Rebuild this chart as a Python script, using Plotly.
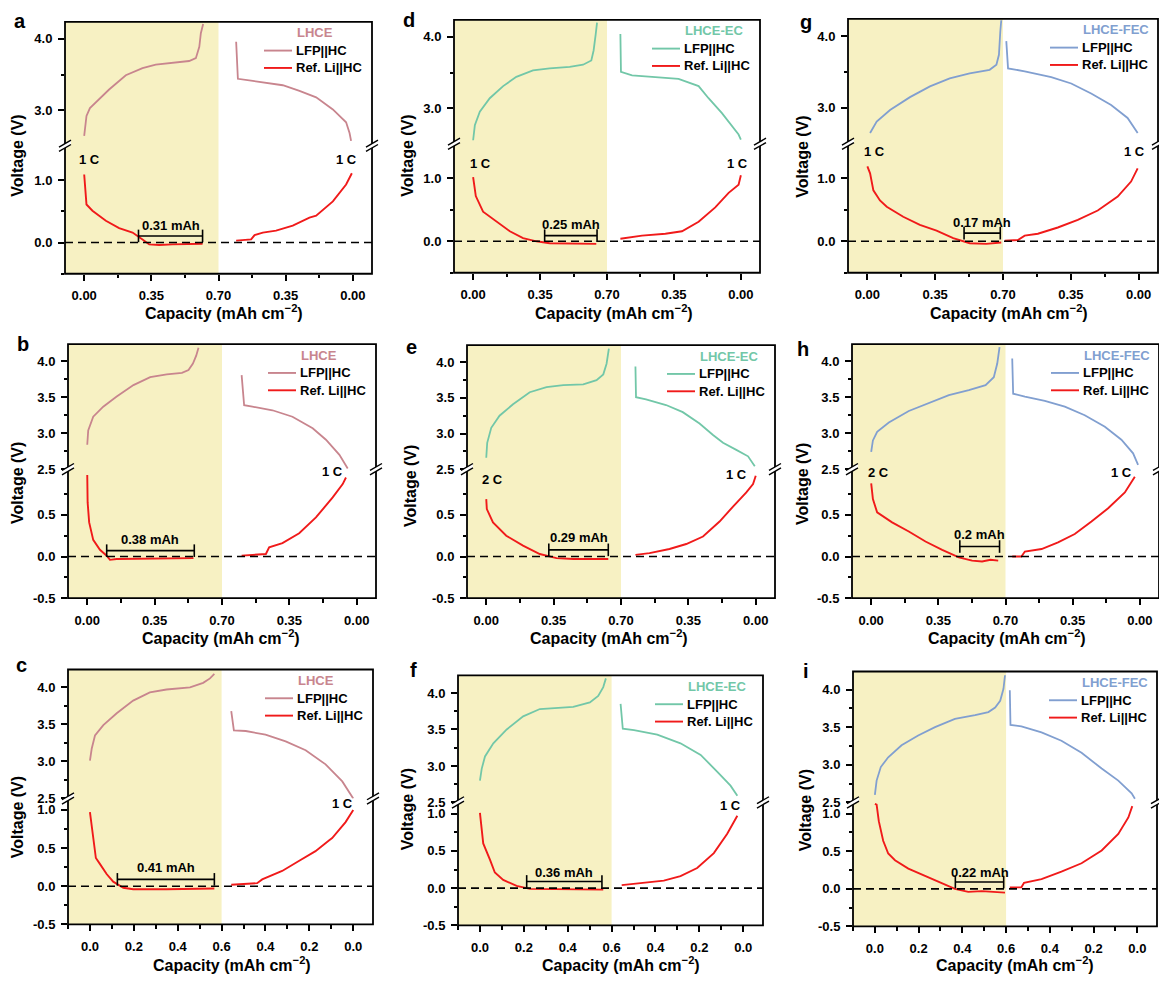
import plotly.graph_objects as go

# ---------------- data: capacity (mAh cm^-2) and voltage (V) ----------------
# Panel a : LHCE, 1 C / 1 C
A_LFP_CHG_CAP = [0, 0.012, 0.03, 0.061, 0.13, 0.217, 0.304, 0.373, 0.46, 0.547, 0.582, 0.6, 0.608, 0.62]
A_LFP_CHG_V = [2.64, 2.92, 3.03, 3.11, 3.29, 3.49, 3.59, 3.64, 3.66, 3.69, 3.73, 3.89, 4.08, 4.21]
A_LFP_DIS_CAP = [0.608, 0.599, 0.521, 0.365, 0.278, 0.191, 0.104, 0.035, 0.017, 0.009]
A_LFP_DIS_V = [3.96, 3.44, 3.41, 3.35, 3.27, 3.18, 3.01, 2.83, 2.68, 2.57]
A_LI_L_CAP = [0, 0.012, 0.043, 0.113, 0.182, 0.252, 0.304, 0.339, 0.391, 0.46, 0.617]
A_LI_L_V = [1.09, 0.61, 0.51, 0.35, 0.23, 0.16, 0.05, -0.03, -0.04, -0.03, -0.02]
A_LI_R_CAP = [0.608, 0.556, 0.53, 0.512, 0.469, 0.4, 0.313, 0.226, 0.191, 0.104, 0.035, 0.005]
A_LI_R_V = [0.03, 0.04, 0.05, 0.12, 0.16, 0.19, 0.27, 0.4, 0.43, 0.66, 0.93, 1.11]

# Panel d : LHCE-EC, 1 C / 1 C
D_LFP_CHG_CAP = [0, 0.009, 0.035, 0.087, 0.157, 0.226, 0.313, 0.4, 0.505, 0.575, 0.618, 0.63, 0.641, 0.648]
D_LFP_CHG_V = [2.55, 2.76, 2.95, 3.14, 3.31, 3.44, 3.53, 3.56, 3.58, 3.61, 3.67, 3.81, 4.04, 4.2]
D_LFP_DIS_CAP = [0.63, 0.627, 0.569, 0.447, 0.326, 0.221, 0.169, 0.099, 0.047, 0.012, 0.0]
D_LFP_DIS_V = [4.04, 3.51, 3.46, 3.44, 3.41, 3.31, 3.14, 2.93, 2.75, 2.63, 2.56]
D_LI_L_CAP = [0, 0.014, 0.052, 0.122, 0.192, 0.261, 0.331, 0.4, 0.644]
D_LI_L_V = [1.02, 0.72, 0.47, 0.31, 0.16, 0.05, 0.0, -0.03, -0.04]
D_LI_R_CAP = [0.63, 0.517, 0.395, 0.308, 0.221, 0.134, 0.064, 0.012, 0.0]
D_LI_R_V = [0.04, 0.09, 0.12, 0.16, 0.31, 0.54, 0.77, 0.9, 1.05]

# Panel g : LHCE-FEC, 1 C / 1 C
G_LFP_CHG_CAP = [0.014, 0.048, 0.117, 0.22, 0.323, 0.425, 0.528, 0.631, 0.666, 0.679, 0.686, 0.691]
G_LFP_CHG_V = [2.65, 2.81, 2.97, 3.15, 3.30, 3.41, 3.48, 3.53, 3.6, 3.74, 4.06, 4.22]
G_LFP_DIS_CAP = [0.683, 0.674, 0.588, 0.451, 0.348, 0.245, 0.142, 0.057, 0.005]
G_LFP_DIS_V = [3.93, 3.55, 3.51, 3.43, 3.34, 3.2, 3.04, 2.86, 2.65]
G_LI_L_CAP = [0, 0.014, 0.031, 0.065, 0.1, 0.185, 0.271, 0.357, 0.443, 0.528, 0.614, 0.691]
G_LI_L_V = [1.19, 1.08, 0.81, 0.65, 0.55, 0.39, 0.26, 0.17, 0.05, -0.03, -0.04, -0.02]
G_LI_R_CAP = [0.691, 0.623, 0.588, 0.52, 0.417, 0.314, 0.211, 0.108, 0.039, 0.005]
G_LI_R_V = [0.01, 0.02, 0.09, 0.12, 0.22, 0.34, 0.49, 0.71, 0.95, 1.16]

# Panel b : LHCE, 2 C / 1 C
B_LFP_CHG_CAP = [0, 0.005, 0.031, 0.083, 0.153, 0.24, 0.327, 0.413, 0.492, 0.526, 0.549, 0.566, 0.578]
B_LFP_CHG_V = [2.84, 3.04, 3.23, 3.37, 3.51, 3.67, 3.78, 3.82, 3.84, 3.88, 3.97, 4.08, 4.19]
B_LFP_DIS_CAP = [0.598, 0.585, 0.542, 0.438, 0.334, 0.229, 0.16, 0.09, 0.047]
B_LFP_DIS_V = [3.81, 3.39, 3.37, 3.32, 3.23, 3.07, 2.91, 2.7, 2.51]
B_LI_L_CAP = [0, 0.002, 0.01, 0.031, 0.066, 0.101, 0.118, 0.153, 0.552]
B_LI_L_V = [0.98, 0.65, 0.41, 0.2, 0.08, 0.01, -0.04, -0.03, -0.02]
B_LI_R_CAP = [0.598, 0.542, 0.472, 0.455, 0.386, 0.299, 0.212, 0.125, 0.073, 0.056]
B_LI_R_V = [0.01, 0.02, 0.03, 0.11, 0.16, 0.28, 0.47, 0.71, 0.87, 0.95]

# Panel e : LHCE-EC, 2 C / 1 C
E_LFP_CHG_CAP = [0, 0.005, 0.026, 0.069, 0.139, 0.226, 0.313, 0.4, 0.504, 0.573, 0.608, 0.625, 0.637]
E_LFP_CHG_V = [2.66, 2.87, 3.08, 3.25, 3.41, 3.58, 3.65, 3.68, 3.69, 3.75, 3.83, 3.98, 4.19]
E_LFP_DIS_CAP = [0.625, 0.622, 0.57, 0.466, 0.379, 0.292, 0.222, 0.17, 0.101, 0.04, 0.005]
E_LFP_DIS_V = [3.94, 3.51, 3.48, 3.4, 3.3, 3.14, 2.98, 2.87, 2.77, 2.68, 2.54]
E_LI_L_CAP = [0, 0.003, 0.035, 0.104, 0.191, 0.278, 0.365, 0.452, 0.634]
E_LI_L_V = [0.69, 0.57, 0.41, 0.25, 0.13, 0.03, -0.02, -0.03, -0.03]
E_LI_R_CAP = [0.625, 0.552, 0.448, 0.361, 0.274, 0.188, 0.118, 0.049, 0.014, 0.0]
E_LI_R_V = [0.02, 0.04, 0.09, 0.15, 0.24, 0.42, 0.6, 0.77, 0.87, 0.97]

# Panel h : LHCE-FEC, 2 C / 1 C
H_LFP_CHG_CAP = [0, 0.009, 0.031, 0.092, 0.196, 0.3, 0.405, 0.509, 0.596, 0.639, 0.657, 0.669]
H_LFP_CHG_V = [2.74, 2.9, 3.02, 3.15, 3.31, 3.42, 3.53, 3.6, 3.67, 3.78, 3.97, 4.2]
H_LFP_DIS_CAP = [0.665, 0.66, 0.599, 0.495, 0.391, 0.287, 0.182, 0.096, 0.035, 0.009]
H_LFP_DIS_V = [4.04, 3.55, 3.51, 3.45, 3.37, 3.25, 3.09, 2.91, 2.72, 2.56]
H_LI_L_CAP = [0, 0.009, 0.031, 0.109, 0.196, 0.283, 0.37, 0.457, 0.526, 0.578, 0.622, 0.662]
H_LI_L_V = [0.88, 0.69, 0.53, 0.41, 0.3, 0.18, 0.08, -0.01, -0.05, -0.06, -0.04, -0.05]
H_LI_R_CAP = [0.665, 0.617, 0.599, 0.512, 0.426, 0.339, 0.252, 0.165, 0.078, 0.026]
H_LI_R_V = [0.0, 0.0, 0.06, 0.09, 0.17, 0.27, 0.42, 0.58, 0.77, 0.96]

# Panel c : LHCE, 3 C / 1 C
C_LFP_CHG_CAP = [0, 0.008, 0.023, 0.061, 0.122, 0.197, 0.273, 0.349, 0.456, 0.516, 0.547, 0.567]
C_LFP_CHG_V = [3.01, 3.17, 3.35, 3.49, 3.65, 3.82, 3.93, 3.97, 4.0, 4.06, 4.12, 4.18]
C_LFP_DIS_CAP = [0.556, 0.544, 0.49, 0.4, 0.308, 0.217, 0.126, 0.05, 0.0]
C_LFP_DIS_V = [3.68, 3.42, 3.41, 3.36, 3.27, 3.15, 2.96, 2.73, 2.5]
C_LI_L_CAP = [0, 0.015, 0.027, 0.046, 0.076, 0.106, 0.152, 0.197, 0.349, 0.567]
C_LI_L_V = [0.97, 0.63, 0.37, 0.29, 0.16, 0.06, -0.02, -0.04, -0.04, -0.03]
C_LI_R_CAP = [0.556, 0.49, 0.438, 0.415, 0.324, 0.248, 0.172, 0.111, 0.096, 0.035, 0.0]
C_LI_R_V = [0.02, 0.03, 0.04, 0.09, 0.2, 0.33, 0.46, 0.6, 0.63, 0.84, 1.0]

# Panel f : LHCE-EC, 3 C / 1 C
F_LFP_CHG_CAP = [0, 0.008, 0.023, 0.061, 0.122, 0.197, 0.273, 0.349, 0.425, 0.501, 0.539, 0.562, 0.574]
F_LFP_CHG_V = [2.8, 2.96, 3.13, 3.31, 3.5, 3.68, 3.78, 3.8, 3.81, 3.87, 3.96, 4.08, 4.2]
F_LFP_DIS_CAP = [0.559, 0.549, 0.498, 0.392, 0.286, 0.194, 0.118, 0.058, 0.027]
F_LFP_DIS_V = [3.85, 3.51, 3.49, 3.43, 3.31, 3.15, 2.92, 2.73, 2.59]
F_LI_L_CAP = [0, 0.008, 0.015, 0.046, 0.068, 0.106, 0.167, 0.228, 0.562]
F_LI_L_V = [1.01, 0.82, 0.6, 0.38, 0.21, 0.11, 0.03, -0.01, -0.02]
F_LI_R_CAP = [0.554, 0.468, 0.362, 0.286, 0.21, 0.134, 0.073, 0.027]
F_LI_R_V = [0.04, 0.07, 0.1, 0.16, 0.27, 0.47, 0.73, 0.97]

# Panel i : LHCE-FEC, 3 C / 1 C
I_LFP_CHG_CAP = [0, 0.008, 0.027, 0.061, 0.122, 0.198, 0.275, 0.366, 0.458, 0.519, 0.55, 0.573, 0.588, 0.595]
I_LFP_CHG_V = [2.6, 2.79, 2.97, 3.1, 3.26, 3.39, 3.5, 3.61, 3.66, 3.7, 3.76, 3.85, 4.01, 4.19]
I_LFP_DIS_CAP = [0.583, 0.58, 0.53, 0.438, 0.347, 0.255, 0.163, 0.087, 0.026, 0.011]
I_LFP_DIS_V = [3.99, 3.53, 3.51, 3.43, 3.32, 3.16, 2.95, 2.79, 2.62, 2.55]
I_LI_L_CAP = [0, 0.008, 0.018, 0.038, 0.061, 0.092, 0.153, 0.229, 0.305, 0.366, 0.427, 0.489, 0.595]
I_LI_L_V = [1.13, 1.12, 0.9, 0.64, 0.47, 0.38, 0.27, 0.17, 0.07, 0.0, -0.04, -0.03, -0.05]
I_LI_R_CAP = [0.583, 0.53, 0.518, 0.438, 0.347, 0.255, 0.163, 0.087, 0.041, 0.023]
I_LI_R_V = [0.02, 0.02, 0.08, 0.13, 0.23, 0.34, 0.51, 0.73, 0.95, 1.1]

# Overpotential brackets: (start, end) capacity, and label
BRACKET_SPAN = {"a": (0.283, 0.617), "d": (0.374, 0.648), "g": (0.499, 0.686),
                "b": (0.101, 0.556), "e": (0.325, 0.634), "h": (0.462, 0.669),
                "c": (0.125, 0.567), "f": (0.213, 0.556), "i": (0.368, 0.589)}
BRACKET_LABEL = {"a": "0.31 mAh", "d": "0.25 mAh", "g": "0.17 mAh",
                 "b": "0.38 mAh", "e": "0.29 mAh", "h": "0.2 mAh",
                 "c": "0.41 mAh", "f": "0.36 mAh", "i": "0.22 mAh"}
CHARGE_RATE = {"a": "1 C", "d": "1 C", "g": "1 C", "b": "2 C", "e": "2 C", "h": "2 C",
               "c": "3 C", "f": "3 C", "i": "3 C"}
DISCHARGE_RATE = "1 C"
ELECTROLYTE = {"a": "LHCE", "b": "LHCE", "c": "LHCE",
               "d": "LHCE-EC", "e": "LHCE-EC", "f": "LHCE-EC",
               "g": "LHCE-FEC", "h": "LHCE-FEC", "i": "LHCE-FEC"}
SERIES_NAMES = ["LFP||HC", "Ref. Li||HC"]

X_TICKS_07 = [0.0, 0.35, 0.70, 0.35, 0.0]
X_TICKS_06 = [0.0, 0.2, 0.4, 0.6, 0.4, 0.2, 0.0]

DATA = {
    "a": (A_LFP_CHG_CAP, A_LFP_CHG_V, A_LFP_DIS_CAP, A_LFP_DIS_V, A_LI_L_CAP, A_LI_L_V, A_LI_R_CAP, A_LI_R_V),
    "d": (D_LFP_CHG_CAP, D_LFP_CHG_V, D_LFP_DIS_CAP, D_LFP_DIS_V, D_LI_L_CAP, D_LI_L_V, D_LI_R_CAP, D_LI_R_V),
    "g": (G_LFP_CHG_CAP, G_LFP_CHG_V, G_LFP_DIS_CAP, G_LFP_DIS_V, G_LI_L_CAP, G_LI_L_V, G_LI_R_CAP, G_LI_R_V),
    "b": (B_LFP_CHG_CAP, B_LFP_CHG_V, B_LFP_DIS_CAP, B_LFP_DIS_V, B_LI_L_CAP, B_LI_L_V, B_LI_R_CAP, B_LI_R_V),
    "e": (E_LFP_CHG_CAP, E_LFP_CHG_V, E_LFP_DIS_CAP, E_LFP_DIS_V, E_LI_L_CAP, E_LI_L_V, E_LI_R_CAP, E_LI_R_V),
    "h": (H_LFP_CHG_CAP, H_LFP_CHG_V, H_LFP_DIS_CAP, H_LFP_DIS_V, H_LI_L_CAP, H_LI_L_V, H_LI_R_CAP, H_LI_R_V),
    "c": (C_LFP_CHG_CAP, C_LFP_CHG_V, C_LFP_DIS_CAP, C_LFP_DIS_V, C_LI_L_CAP, C_LI_L_V, C_LI_R_CAP, C_LI_R_V),
    "f": (F_LFP_CHG_CAP, F_LFP_CHG_V, F_LFP_DIS_CAP, F_LFP_DIS_V, F_LI_L_CAP, F_LI_L_V, F_LI_R_CAP, F_LI_R_V),
    "i": (I_LFP_CHG_CAP, I_LFP_CHG_V, I_LFP_DIS_CAP, I_LFP_DIS_V, I_LI_L_CAP, I_LI_L_V, I_LI_R_CAP, I_LI_R_V),
}

# ---------------- styling / layout ----------------
W, H = 1159, 983
FONT = "Liberation Sans, Arial, sans-serif"
COLORS = {"LHCE": "#C8858E", "LHCE-EC": "#72C7A8", "LHCE-FEC": "#819FD0"}
RED = "#F01A1A"
YELLOW = "#F7F1C3"

# per panel: pixel box (left, right, top, break, bottom), label positions
LAYOUT = {
    "a": dict(box=(65, 372, 22, 147, 276), row=1, lab=(20, 21), ytl=(18, 157), xtl=(224, 315),
              brk_v=0.106, brk_t=0.28, rl=(0.03, 1.33), rr=(1.365, 1.33)),
    "d": dict(box=(454, 760, 20, 145, 275), row=1, lab=(409, 20), ytl=(408, 157), xtl=(614, 315),
              brk_v=0.09, brk_t=0.27, rl=(0.038, 1.24), rr=(1.384, 1.24)),
    "g": dict(box=(848, 1158, 19, 145, 275), row=1, lab=(806, 22), ytl=(803, 158), xtl=(1009, 315),
              brk_v=0.13, brk_t=0.3, rl=(0.039, 1.42), rr=(1.378, 1.42)),
    "b": dict(box=(68, 376, 347, 473, 603), row=2, lab=(23, 347), ytl=(17, 487), xtl=(221, 642),
              brk_v=0.07, brk_t=0.21, rl=(0.012, 1.13), rr=(1.275, 1.02)),
    "e": dict(box=(467, 775, 348, 473, 603), row=2, lab=(411, 350), ytl=(410, 490), xtl=(609, 642),
              brk_v=0.08, brk_t=0.23, rl=(0.035, 0.93), rr=(1.3, 0.98)),
    "h": dict(box=(852, 1159, 347, 473, 603), row=2, lab=(803, 352), ytl=(802, 488), xtl=(1007, 642),
              brk_v=0.12, brk_t=0.26, rl=(0.04, 1.01), rr=(1.304, 1.01)),
    "c": dict(box=(68, 373, 675, 805, 932), row=3, lab=(21, 670), ytl=(17, 824), xtl=(232, 972),
              brk_v=0.09, brk_t=0.25, rl=(0.018, 1.24), rr=(1.15, 1.09)),
    "f": dict(box=(458, 763, 681, 809, 933), row=3, lab=(413, 675), ytl=(407, 816), xtl=(621, 972),
              brk_v=0.09, brk_t=0.21, rl=(0.03, 1.23), rr=(1.142, 1.11)),
    "i": dict(box=(853, 1157, 677, 809, 934), row=3, lab=(806, 677), ytl=(805, 817), xtl=(1015, 972),
              brk_v=0.09, brk_t=0.22, rl=(0.084, 1.21), rr=(1.128, 1.19)),
}

ROWS = {
    1: dict(half=0.7, xr=[-0.1, 1.5], xt=[0, 0.35, 0.7, 1.05, 1.4], xtt=X_TICKS_07,
            xminor=[0.175, 0.525, 0.875, 1.225], xfmt="%.2f",
            ut=[3.0, 4.0], uminor=[3.5], lr=[-0.5, 1.55], lt=[0.0, 1.0], lminor=[-0.5, 0.5]),
    2: dict(half=0.7, xr=[-0.1, 1.5], xt=[0, 0.35, 0.7, 1.05, 1.4], xtt=X_TICKS_07,
            xminor=[0.175, 0.525, 0.875, 1.225], xfmt="%.2f",
            ut=[2.5, 3.0, 3.5, 4.0], uminor=[2.75, 3.25, 3.75], lr=[-0.5, 1.05],
            lt=[-0.5, 0.0, 0.5], lminor=[-0.25, 0.25, 0.75]),
    3: dict(half=0.6, xr=[-0.1, 1.29], xt=[0, 0.2, 0.4, 0.6, 0.8, 1.0, 1.2], xtt=X_TICKS_06,
            xminor=[-0.1, 0.1, 0.3, 0.5, 0.7, 0.9, 1.1], xfmt="%.1f",
            ut=[2.5, 3.0, 3.5, 4.0], uminor=[2.75, 3.25, 3.75], lr=[-0.5, 1.15],
            lt=[-0.5, 0.0, 0.5, 1.0], lminor=[-0.25, 0.25, 0.75]),
}
UPPER_RANGE = [2.5, 4.24]


def px(x):
    return x / W


def py(y):
    return 1 - y / H


def ax_name(kind, n):
    return f"{kind}axis" if n == 1 else f"{kind}axis{n}"


def ax_ref(kind, n):
    return kind if n == 1 else f"{kind}{n}"


def bold(size, color="black"):
    return dict(family=FONT, size=size, color=color, weight="bold")


fig = go.Figure()
shapes, annos = [], []
layout = {}

tick_common = dict(ticks="outside", ticklen=6, tickwidth=1.5, tickcolor="black",
                   showgrid=False, zeroline=False, showline=False, tickfont=bold(13))
minor_common = dict(ticks="outside", ticklen=3.5, tickwidth=1.5, tickcolor="black", showgrid=False)

for k, tag in enumerate(["a", "b", "c", "d", "e", "f", "g", "h", "i"]):
    L = LAYOUT[tag]
    R = ROWS[L["row"]]
    l, r, t, b_, bt = L["box"]
    nL, nU = 2 * k + 1, 2 * k + 2
    elec = ELECTROLYTE[tag]
    col = COLORS[elec]
    half = R["half"]

    xdom = [px(l), px(r)]
    layout[ax_name("x", nL)] = dict(domain=xdom, anchor=ax_ref("y", nL), range=R["xr"],
                                   tickmode="array", tickvals=R["xt"],
                                   ticktext=[R["xfmt"] % v for v in R["xtt"]],
                                   minor=dict(tickvals=R["xminor"], **minor_common),
                                   ticklabelstandoff=4, **tick_common)
    layout[ax_name("x", nU)] = dict(domain=xdom, anchor=ax_ref("y", nU), range=R["xr"],
                                   visible=False, showgrid=False, zeroline=False)
    layout[ax_name("y", nL)] = dict(domain=[py(bt), py(b_)], anchor=ax_ref("x", nL), range=R["lr"],
                                   tickmode="array", tickvals=R["lt"],
                                   ticktext=["%.1f" % v for v in R["lt"]],
                                   minor=dict(tickvals=R["lminor"], **minor_common),
                                   ticklabelstandoff=3, **tick_common)
    layout[ax_name("y", nU)] = dict(domain=[py(b_), py(t)], anchor=ax_ref("x", nU), range=UPPER_RANGE,
                                   tickmode="array", tickvals=R["ut"],
                                   ticktext=["%.1f" % v for v in R["ut"]],
                                   minor=dict(tickvals=R["uminor"], **minor_common),
                                   ticklabelstandoff=3, **tick_common)

    lfp_cc, lfp_cv, lfp_dc, lfp_dv, li_lc, li_lv, li_rc, li_rv = DATA[tag]
    xu, yu = ax_ref("x", nU), ax_ref("y", nU)
    xl, yl = ax_ref("x", nL), ax_ref("y", nL)

    # yellow shading of the left (charge) half
    shapes.append(dict(type="rect", xref=xl, yref="paper", x0=R["xr"][0], x1=half,
                       y0=py(bt), y1=py(t), fillcolor=YELLOW, line=dict(width=0), layer="below"))
    # dashed 0 V line
    shapes.append(dict(type="line", xref=f"{xl} domain", yref=yl, x0=0, x1=1, y0=0, y1=0,
                       line=dict(color="black", width=1.6, dash="8px,5px"), layer="above"))

    # curves
    fig.add_trace(go.Scatter(x=lfp_cc, y=lfp_cv, xaxis=xu, yaxis=yu, mode="lines",
                             line=dict(color=col, width=1.8), hoverinfo="skip"))
    fig.add_trace(go.Scatter(x=[2 * half - c for c in lfp_dc], y=lfp_dv, xaxis=xu, yaxis=yu,
                             mode="lines", line=dict(color=col, width=1.8), hoverinfo="skip"))
    fig.add_trace(go.Scatter(x=li_lc, y=li_lv, xaxis=xl, yaxis=yl, mode="lines",
                             line=dict(color=RED, width=1.9), hoverinfo="skip"))
    fig.add_trace(go.Scatter(x=[2 * half - c for c in li_rc], y=li_rv, xaxis=xl, yaxis=yl,
                             mode="lines", line=dict(color=RED, width=1.9), hoverinfo="skip"))

    # bracket
    s0, s1 = BRACKET_SPAN[tag]
    fig.add_trace(go.Scatter(x=[s0, s1], y=[L["brk_v"], L["brk_v"]], xaxis=xl, yaxis=yl,
                             mode="lines+markers", line=dict(color="black", width=1.6),
                             marker=dict(symbol="line-ns", size=9, line=dict(color="black", width=1.6)),
                             hoverinfo="skip", cliponaxis=False))
    annos.append(dict(xref=xl, yref=yl, x=(s0 + s1) / 2, y=L["brk_t"], text=BRACKET_LABEL[tag],
                      showarrow=False, xanchor="center", yanchor="middle", font=bold(13)))
    # rate labels
    annos.append(dict(xref=xl, yref=yl, x=L["rl"][0], y=L["rl"][1], text=CHARGE_RATE[tag],
                      showarrow=False, xanchor="center", yanchor="middle", font=bold(13)))
    annos.append(dict(xref=xl, yref=yl, x=L["rr"][0], y=L["rr"][1], text=DISCHARGE_RATE,
                      showarrow=False, xanchor="center", yanchor="middle", font=bold(13)))

    # frame
    shapes.append(dict(type="rect", xref="paper", yref="paper", x0=px(l), x1=px(r), y0=py(bt), y1=py(t),
                       line=dict(color="black", width=1.8), layer="above"))
    # axis breaks
    for xb in (l, r):
        d, hw, hh = 2.2, 6, 3.5
        pts = [(xb - hw, b_ - d + hh), (xb + hw, b_ - d - hh), (xb + hw, b_ + d - hh), (xb - hw, b_ + d + hh)]
        path = "M " + " L ".join(f"{px(a)},{py(c)}" for a, c in pts) + " Z"
        shapes.append(dict(type="path", xref="paper", yref="paper", path=path,
                           fillcolor="white", line=dict(width=0), layer="above"))
        for sgn in (-1, 1):
            shapes.append(dict(type="line", xref="paper", yref="paper",
                               x0=px(xb - hw), y0=py(b_ + sgn * d + hh),
                               x1=px(xb + hw), y1=py(b_ + sgn * d - hh),
                               line=dict(color="black", width=1.4), layer="above"))

    # legend (manual)
    annos.append(dict(xref="paper", yref="paper", x=px(r - 77), y=py(t + 11), xanchor="left",
                      yanchor="middle", text=elec, showarrow=False, font=bold(13, col)))
    for j, (nm, lc) in enumerate(zip(SERIES_NAMES, [col, RED])):
        yy = t + 29 + 17.5 * j
        shapes.append(dict(type="line", xref="paper", yref="paper", x0=px(r - 108), x1=px(r - 80),
                           y0=py(yy), y1=py(yy), line=dict(color=lc, width=1.9), layer="above"))
        annos.append(dict(xref="paper", yref="paper", x=px(r - 78), y=py(yy), xanchor="left",
                          yanchor="middle", text=nm, showarrow=False, font=bold(13)))

    # panel letter and axis titles
    annos.append(dict(xref="paper", yref="paper", x=px(L["lab"][0]), y=py(L["lab"][1]), text=tag,
                      showarrow=False, xanchor="center", yanchor="middle", font=bold(20)))
    annos.append(dict(xref="paper", yref="paper", x=px(L["ytl"][0]), y=py(L["ytl"][1]),
                      text="Voltage (V)", textangle=-90, showarrow=False,
                      xanchor="center", yanchor="middle", font=bold(16)))
    annos.append(dict(xref="paper", yref="paper", x=px(L["xtl"][0]), y=py(L["xtl"][1]),
                      text="Capacity (mAh cm<sup>\u22122</sup>)", showarrow=False,
                      xanchor="center", yanchor="middle", font=bold(16)))

fig.update_layout(width=W, height=H, margin=dict(l=0, r=0, t=0, b=0),
                  paper_bgcolor="white", plot_bgcolor="rgba(0,0,0,0)",
                  showlegend=False, shapes=shapes, annotations=annos, **layout)

fig.write_html("out.html")
